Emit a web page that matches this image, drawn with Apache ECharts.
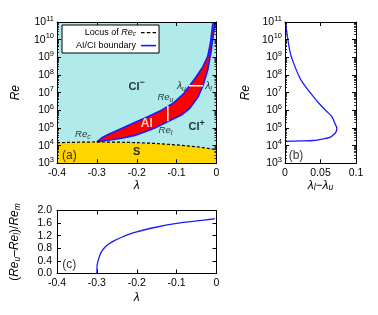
<!DOCTYPE html>
<html><head><meta charset="utf-8">
<script src="https://cdn.jsdelivr.net/npm/echarts@6/dist/echarts.min.js"></script>
<style>html,body{margin:0;padding:0;background:#fff}#c{width:378px;height:315px}</style>
</head><body><div id="c"></div>
<script>
// ---------- Panel (a) data ----------
const lamRec = [-0.4, -0.35, -0.3, -0.25, -0.2, -0.15, -0.1, -0.05, 0];
const reRec  = [1.48e4, 1.55e4, 1.62e4, 1.58e4, 1.48e4, 1.32e4, 1.10e4, 8.7e3, 5.9e3];

const lamUpper = [-0.3, -0.296, -0.286, -0.272, -0.255, -0.238, -0.205, -0.172, -0.138, -0.122, -0.109, -0.084, -0.069, -0.051, -0.034, -0.022, -0.015, -0.011, -0.0085];
const reUpper  = [1.62e4, 2.1e4, 2.95e4, 4.3e4, 6.3e4, 9.3e4, 2.04e5, 4.3e5, 1.02e6, 1.66e6, 2.5e6, 7.9e6, 2.2e7, 7.9e7, 2.95e8, 1.12e9, 6.9e9, 4.0e10, 1e11];

const lamLower = [-0.3, -0.285, -0.272, -0.238, -0.205, -0.172, -0.155, -0.138, -0.122, -0.088, -0.067, -0.046, -0.034, -0.022, -0.013, -0.009, -0.005, -0.0025];
const reLower  = [1.62e4, 1.82e4, 2.0e4, 2.6e4, 3.8e4, 7.0e4, 1.0e5, 1.5e5, 2.3e5, 5.4e5, 1.29e6, 5.9e6, 2.45e7, 1.9e8, 2.6e9, 1.26e10, 5.0e10, 1e11];

// white markers: Re_u-Re_l span and lambda_u-lambda_l span
const spanReLam = [-0.122, -0.122];
const spanReVal = [2.4e5, 1.74e6];
const spanLamLam = [-0.069, -0.034];
const spanLamVal = [2.45e7, 2.45e7];

// ---------- Panel (b) data ----------
const reB   = [1e11, 1.95e10, 3.4e9, 9.3e8, 6.8e7, 1.8e7, 6.0e6, 2.2e6, 8.5e5, 4.4e5, 1.9e5, 9.8e4, 5.6e4, 4.1e4, 2.9e4, 2.4e4, 1.95e4, 1.86e4, 1.78e4, 1.7e4];
const dLamB = [0.0004, 0.003, 0.006, 0.0094, 0.021, 0.0305, 0.040, 0.049, 0.059, 0.066, 0.070, 0.073, 0.0715, 0.068, 0.063, 0.054, 0.040, 0.021, 0.008, 0.0];

// ---------- Panel (c) data ----------
const lamC   = [-0.3, -0.2998, -0.2993, -0.297, -0.293, -0.289, -0.282, -0.272, -0.255, -0.238, -0.22, -0.2, -0.155, -0.1, -0.055, -0.009, -0.004];
const ratioC = [0.0, 0.15, 0.27, 0.40, 0.56, 0.68, 0.80, 0.92, 1.05, 1.15, 1.24, 1.32, 1.46, 1.59, 1.66, 1.73, 1.74];

const FONT = 'Liberation Sans, Arial, Helvetica, sans-serif';
const BLUE = '#1a1aff';

function zip(a, b) { return a.map((v, i) => [v, b[i]]); }
function zipRev(a, b) { return a.map((v, i) => [b[i], v]); }

const logRich = {
  b: { fontSize: 10.5, fontFamily: FONT, color: '#000' },
  p: { fontSize: 7.5, fontFamily: FONT, color: '#000', padding: [0, 0, 7, 0] }
};
function logFmt(v) { const e = Math.round(Math.log10(v)); return '{b|10}{p|' + e + '}'; }
const nameRich = {
  i: { fontSize: 12, fontStyle: 'italic', fontFamily: FONT, color: '#000' },
  n: { fontSize: 12, fontFamily: FONT, color: '#000' },
  s: { fontSize: 8.5, fontStyle: 'italic', fontFamily: FONT, color: '#000', padding: [5, 0, 0, 0] }
};

function axLine() { return { show: true, onZero: false, lineStyle: { color: '#000', width: 1 } }; }
function axTick() { return { show: true, inside: true, length: 4, lineStyle: { color: '#000', width: 1 } }; }

function xPair(grid, min, max, interval, fmt, name, gap) {
  return [
    { type: 'value', gridIndex: grid, position: 'bottom', min, max, interval, z: 10,
      axisLine: axLine(), axisTick: axTick(), splitLine: { show: false },
      axisLabel: { margin: 4, fontSize: 10.5, fontFamily: FONT, color: '#000', formatter: fmt },
      name, nameLocation: 'middle', nameGap: gap, nameTextStyle: { rich: nameRich } },
    { type: 'value', gridIndex: grid, position: 'top', min, max, interval, z: 10,
      axisLine: axLine(), axisTick: axTick(), splitLine: { show: false }, axisLabel: { show: false } }
  ];
}
function yLogPair(grid, name, gap) {
  const minor = { show: true, splitNumber: 9, length: 2, lineStyle: { color: '#000', width: 0.8 } };
  return [
    { type: 'log', logBase: 10, gridIndex: grid, position: 'left', min: 1e3, max: 1e11, splitNumber: 8, z: 10,
      axisLine: axLine(), axisTick: axTick(), minorTick: minor, splitLine: { show: false }, minorSplitLine: { show: false },
      axisLabel: { margin: 3, formatter: logFmt, rich: logRich },
      name, nameLocation: 'middle', nameGap: gap, nameTextStyle: { rich: nameRich } },
    { type: 'log', logBase: 10, gridIndex: grid, position: 'right', min: 1e3, max: 1e11, splitNumber: 8, z: 10,
      axisLine: axLine(), axisTick: axTick(), minorTick: minor, splitLine: { show: false }, minorSplitLine: { show: false },
      axisLabel: { show: false } }
  ];
}

const lamFmt = v => (Math.abs(v) < 1e-9 ? '0' : v.toFixed(1));

const textLabels = [
  { grid: 0, x: -0.2,   y: 2.1e7, t: '{b|CI}{sp|−}' },
  { grid: 0, x: -0.05,  y: 1.07e5, t: '{b|CI}{sp|+}' },
  { grid: 0, x: -0.175, y: 1.8e5, t: '{bw|AI}' },
  { grid: 0, x: -0.2,   y: 4.4e3, t: '{b|S}' },
  { grid: 0, x: -0.335, y: 4.5e4, t: '{i|Re}{s|c}' },
  { grid: 0, x: -0.128, y: 5.4e6, t: '{i|Re}{s|u}' },
  { grid: 0, x: -0.128, y: 6.9e4, t: '{i|Re}{s|l}' },
  { grid: 0, x: -0.088, y: 2.3e7, t: '{il|λ}{s|u}' },
  { grid: 0, x: -0.02,  y: 2.3e7, t: '{il|λ}{s|l}' },
  { grid: 0, x: -0.369, y: 2.8e3, t: '{n|(a)}' },
  { grid: 1, x: 0.0155, y: 2.8e3, t: '{n|(b)}' },
  { grid: 2, x: -0.369, y: 0.27,  t: '{n|(c)}' }
];
const labelRich = {
  b:  { fontSize: 11, fontWeight: 'bold', fontFamily: FONT, color: '#000' },
  bw: { fontSize: 12, fontWeight: 'bold', fontFamily: FONT, color: '#fff' },
  sp: { fontSize: 9, fontWeight: 'bold', fontFamily: FONT, color: '#000', padding: [0, 0, 8, 0] },
  i:  { fontSize: 9.5, fontStyle: 'italic', fontFamily: FONT, color: '#000' },
  il: { fontSize: 10.5, fontStyle: 'italic', fontFamily: FONT, color: '#000' },
  s:  { fontSize: 7, fontStyle: 'italic', fontFamily: FONT, color: '#000', padding: [5, 0, 0, 0] },
  n:  { fontSize: 12, fontFamily: FONT, color: '#000' }
};
function labelSeries(grid) {
  return {
    type: 'scatter', xAxisIndex: grid * 2, yAxisIndex: grid * 2, symbolSize: 0, silent: true, z: 20,
    data: textLabels.filter(d => d.grid === grid).map(d => ({ value: [d.x, d.y], label: { formatter: d.t } })),
    label: { show: true, position: 'inside', rich: labelRich }
  };
}

// legend sample icons (bounding box 15x9 fixed by the move-to points)
const ICON_SOLID = 'path://M0,0 M15,9 M0,3.8 L15,3.8 L15,5.4 L0,5.4 Z';
const ICON_DASH = 'path://M0,0 M15,9 M0,3.9 L3.5,3.9 L3.5,5.3 L0,5.3 Z M5.75,3.9 L9.25,3.9 L9.25,5.3 L5.75,5.3 Z M11.5,3.9 L15,3.9 L15,5.3 L11.5,5.3 Z';

const chart = echarts.init(document.getElementById('c'), null, { renderer: 'canvas' });
chart.setOption({
  animation: false,
  backgroundColor: '#fff',
  textStyle: { fontFamily: FONT },
  grid: [
    { left: 57, top: 22, width: 159.5, height: 141.3, show: true, backgroundColor: '#b0eaea', borderWidth: 0, outerBoundsMode: 'none' },
    { left: 285, top: 22, width: 71, height: 141.3, outerBoundsMode: 'none' },
    { left: 57, top: 210.5, width: 159.5, height: 63, outerBoundsMode: 'none' }
  ],
  legend: {
    data: [{ name: 'Locus of Re_c', icon: ICON_DASH }, { name: 'AI/CI boundary', icon: ICON_SOLID }],
    orient: 'vertical', align: 'right', left: 62, top: 25,
    itemWidth: 15, itemHeight: 9, itemGap: 3,
    backgroundColor: '#fff', borderColor: '#000', borderWidth: 1, borderRadius: 0,
    padding: [3, 3, 3, 14], selectedMode: false, z: 30,
    textStyle: { fontSize: 9, fontFamily: FONT, color: '#000', rich: {
      n: { fontSize: 9, fontFamily: FONT, color: '#000' },
      i: { fontSize: 9, fontStyle: 'italic', fontFamily: FONT, color: '#000' },
      s: { fontSize: 6.5, fontStyle: 'italic', fontFamily: FONT, color: '#000', padding: [4, 0, 0, 0] } } },
    formatter: n => n === 'Locus of Re_c' ? '{n|Locus of }{i|Re}{s|c}' : '{n|' + n + '}'
  },
  xAxis: [
    ...xPair(0, -0.4, 0, 0.1, lamFmt, '{i|λ}', 12),
    ...xPair(1, 0, 0.1, 0.05, v => (Math.abs(v) < 1e-9 ? '0' : String(+v.toFixed(2))), '{i|λ}{s|l}{n|−}{i|λ}{s|u}', 12),
    ...xPair(2, -0.4, 0, 0.1, lamFmt, '{i|λ}', 18)
  ],
  yAxis: [
    ...yLogPair(0, '{i|Re}', 35),
    ...yLogPair(1, '{i|Re}', 33),
    { type: 'value', gridIndex: 2, position: 'left', min: 0, max: 2, interval: 0.4, z: 10,
      axisLine: axLine(), axisTick: axTick(), splitLine: { show: false },
      axisLabel: { margin: 5, fontSize: 10.5, fontFamily: FONT, color: '#000', formatter: v => v.toFixed(1) },
      name: '{n|(}{i|Re}{s|u}{n|–}{i|Re}{s|l}{n|)/}{i|Re}{s|m}', nameLocation: 'middle', nameGap: 35, nameTextStyle: { rich: nameRich } },
    { type: 'value', gridIndex: 2, position: 'right', min: 0, max: 2, interval: 0.4, z: 10,
      axisLine: axLine(), axisTick: axTick(), splitLine: { show: false }, axisLabel: { show: false } }
  ],
  series: [
    { type: 'line', xAxisIndex: 0, yAxisIndex: 0, data: zip(lamRec, reRec), symbol: 'none', silent: true, z: 1,
      lineStyle: { width: 0 }, areaStyle: { color: '#ffd500', opacity: 1, origin: 'start' } },
    { type: 'custom', xAxisIndex: 0, yAxisIndex: 0, silent: true, z: 2, data: [[-0.2, 1e5]],
      renderItem: (params, api) => {
        const pts = [];
        for (let i = 0; i < lamUpper.length; i++) pts.push(api.coord([lamUpper[i], reUpper[i]]));
        for (let i = lamLower.length - 1; i >= 0; i--) pts.push(api.coord([lamLower[i], reLower[i]]));
        return { type: 'polygon', shape: { points: pts }, style: { fill: '#ff0000', stroke: null } };
      } },
    { name: 'AI/CI boundary', type: 'line', xAxisIndex: 0, yAxisIndex: 0, data: zip(lamUpper, reUpper), symbol: 'none', z: 3,
      lineStyle: { color: BLUE, width: 1.6 }, itemStyle: { color: BLUE } },
    { name: 'AI/CI boundary', type: 'line', xAxisIndex: 0, yAxisIndex: 0, data: zip(lamLower, reLower), symbol: 'none', z: 3,
      lineStyle: { color: BLUE, width: 1.6 }, itemStyle: { color: BLUE } },
    { name: 'Locus of Re_c', type: 'line', xAxisIndex: 0, yAxisIndex: 0, data: zip(lamRec, reRec), symbol: 'none', z: 4,
      lineStyle: { color: '#000', width: 1.2, type: [3, 2] }, itemStyle: { color: '#000' } },
    { type: 'line', xAxisIndex: 0, yAxisIndex: 0, data: zip(spanReLam, spanReVal), symbol: 'none', silent: true, z: 5,
      lineStyle: { color: '#fff', width: 1.5 } },
    { type: 'line', xAxisIndex: 0, yAxisIndex: 0, data: zip(spanLamLam, spanLamVal), symbol: 'none', silent: true, z: 5,
      lineStyle: { color: '#fff', width: 1.5 } },
    { type: 'line', xAxisIndex: 2, yAxisIndex: 2, data: zipRev(reB, dLamB), symbol: 'none', silent: true, smooth: 0.3, z: 3,
      lineStyle: { color: BLUE, width: 1.3 } },
    { type: 'line', xAxisIndex: 4, yAxisIndex: 4, data: zip(lamC, ratioC), symbol: 'none', silent: true, smooth: 0.2, z: 3,
      lineStyle: { color: BLUE, width: 1.3 } },
    labelSeries(0), labelSeries(1), labelSeries(2)
  ]
});
</script></body></html>
